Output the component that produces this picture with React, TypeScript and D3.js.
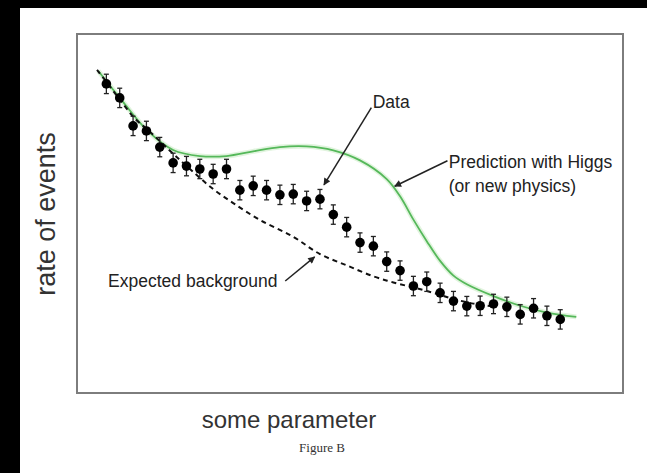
import React from "react";
import * as d3 from "d3";

const W = 647;
const H = 473;

// Bin centres along "some parameter"
const binCenters = [
  1, 2, 3, 4, 5, 6, 7, 8, 9, 10, 11, 12, 13, 14, 15, 16, 17, 18, 19, 20, 21, 22,
  23, 24, 25, 26, 27, 28, 29, 30, 31, 32, 33, 34, 35,
];

// Measured event rate per bin
const rates = [
  86.1, 82.2, 74.4, 73.0, 68.5, 64.1, 63.2, 62.4, 61.0, 62.4, 56.5, 57.7, 56.5,
  55.2, 55.4, 53.5, 54.0, 49.7, 46.2, 41.9, 40.9, 36.6, 34.1, 29.8, 31.0, 27.9,
  25.6, 24.2, 24.3, 24.8, 24.0, 21.9, 23.6, 21.5, 20.5,
];

// Statistical uncertainty per bin
const rateErrors = [
  2.7, 2.7, 2.7, 2.7, 2.7, 2.7, 2.7, 2.7, 2.7, 2.7, 2.7, 2.7, 2.7, 2.7, 2.7,
  2.7, 2.7, 2.7, 2.7, 2.7, 2.7, 2.7, 2.7, 2.7, 2.7, 2.7, 2.7, 2.7, 2.7, 2.7,
  2.7, 2.7, 2.7, 2.7, 2.7,
];

// Signal + background prediction
const higgsX = [
  0.4, 2.2, 4.1, 6.0, 8.0, 10.0, 12.0, 14.0, 16.0, 18.0, 20.0, 22.0, 23.0, 24.0,
  25.0, 26.0, 27.0, 28.0, 30.0, 32.0, 34.0, 36.2,
];
const higgsY = [
  89.7, 81.3, 73.0, 67.7, 66.0, 66.0, 67.3, 68.5, 68.7, 67.6, 64.8, 59.6, 54.8,
  48.3, 42.3, 36.8, 32.7, 30.3, 27.0, 24.3, 22.4, 21.2,
];

// Background-only expectation
const bkgX = [
  0.3, 1.3, 2.2, 3.1, 4.1, 5.0, 6.1, 7.5, 9.0, 10.5, 12.5, 15.0, 17.0, 19.1,
  21.0, 22.5, 24.0, 25.5, 27.0, 28.5, 29.8,
];
const bkgY = [
  90.0, 85.2, 80.8, 76.6, 73.3, 70.2, 66.3, 61.6, 56.8, 52.9, 48.2, 43.5, 38.7,
  35.4, 32.5, 30.8, 29.4, 27.9, 26.2, 24.9, 24.2,
];

// Callouts: label lines, label anchor, arrow tail and arrow head (data units)
const annotations = [
  { lines: ["Data"], at: [20.95, 79.4], from: [20.85, 79.5], to: [17.3, 58.0] },
  {
    lines: ["Prediction with Higgs", "(or new physics)"],
    at: [26.65, 62.6],
    from: [26.55, 64.7],
    to: [22.6, 57.6],
  },
  {
    lines: ["Expected background"],
    at: [1.13, 29.5],
    from: [14.4, 31.2],
    to: [16.6, 37.9],
  },
];

const box = { left: 77, top: 34, right: 623, bottom: 393 };

export default function App() {
  const x = d3.scaleLinear().domain([-1.2, 39.7]).range([box.left, box.right]);
  const y = d3.scaleLinear().domain([0, 100]).range([box.bottom, box.top]);

  const higgsLine = d3
    .line<number>()
    .x((_, i) => x(higgsX[i]))
    .y((d) => y(d))
    .curve(d3.curveCatmullRom.alpha(0.5));
  const bkgLine = d3
    .line<number>()
    .x((_, i) => x(bkgX[i]))
    .y((d) => y(d))
    .curve(d3.curveCatmullRom.alpha(0.5));

  const sans = "'Liberation Sans', Arial, Helvetica, sans-serif";

  return (
    <svg
      width={W}
      height={H}
      viewBox={`0 0 ${W} ${H}`}
      style={{ position: "absolute", left: 0, top: 0, background: "#fff" }}
    >
      <defs>
        <marker
          id="arrowHead"
          viewBox="0 0 10 10"
          refX="9"
          refY="5"
          markerUnits="userSpaceOnUse"
          markerWidth="9"
          markerHeight="7"
          orient="auto"
        >
          <path d="M0,0 L10,5 L0,10 z" fill="#222" />
        </marker>
      </defs>

      <rect x={0} y={0} width={W} height={H} fill="#fff" />
      {/* dark frame strips */}
      <rect x={0} y={0} width={W} height={8} fill="#000" />
      <rect x={0} y={0} width={20} height={H} fill="#000" />

      {/* plot frame */}
      <rect
        x={box.left}
        y={box.top}
        width={box.right - box.left}
        height={box.bottom - box.top}
        fill="#fff"
        stroke="#7d7d7d"
        strokeWidth={2}
      />

      {/* prediction with signal */}
      <path
        d={higgsLine(higgsY) || ""}
        fill="none"
        stroke="#a8e0a0"
        strokeOpacity={0.35}
        strokeWidth={5}
      />
      <path
        d={higgsLine(higgsY) || ""}
        fill="none"
        stroke="#55b85a"
        strokeWidth={1.8}
      />

      {/* background expectation */}
      <path
        d={bkgLine(bkgY) || ""}
        fill="none"
        stroke="#111"
        strokeWidth={2}
        strokeDasharray="5 4"
      />

      {/* data points with error bars */}
      {binCenters.map((b, i) => {
        const cx = x(b);
        const y0 = y(rates[i] - rateErrors[i]);
        const y1 = y(rates[i] + rateErrors[i]);
        return (
          <g key={b}>
            <line x1={cx} x2={cx} y1={y0} y2={y1} stroke="#222" strokeWidth={1.3} />
            <line x1={cx - 2.5} x2={cx + 2.5} y1={y0} y2={y0} stroke="#222" strokeWidth={1.3} />
            <line x1={cx - 2.5} x2={cx + 2.5} y1={y1} y2={y1} stroke="#222" strokeWidth={1.3} />
            <circle cx={cx} cy={y(rates[i])} r={4.8} fill="#000" />
          </g>
        );
      })}

      {/* callouts */}
      {annotations.map((a, k) => (
        <g key={k}>
          <line
            x1={x(a.from[0])}
            y1={y(a.from[1])}
            x2={x(a.to[0])}
            y2={y(a.to[1])}
            stroke="#222"
            strokeWidth={1.5}
            markerEnd="url(#arrowHead)"
          />
          {a.lines.map((t, j) => (
            <text
              key={j}
              x={x(a.at[0])}
              y={y(a.at[1]) + j * 24}
              fontFamily={sans}
              fontSize={17.5}
              fill="#222"
            >
              {t}
            </text>
          ))}
        </g>
      ))}

      {/* axis titles */}
      <text
        transform={`translate(55, 214) rotate(-90)`}
        textAnchor="middle"
        fontFamily={sans}
        fontSize={27}
        fill="#333"
      >
        rate of events
      </text>
      <text
        x={289}
        y={428}
        textAnchor="middle"
        fontFamily={sans}
        fontSize={24}
        fill="#333"
      >
        some parameter
      </text>
      <text
        x={322}
        y={452}
        textAnchor="middle"
        fontFamily="'Liberation Serif', 'Times New Roman', serif"
        fontSize={13}
        fill="#333"
      >
        Figure B
      </text>
    </svg>
  );
}
